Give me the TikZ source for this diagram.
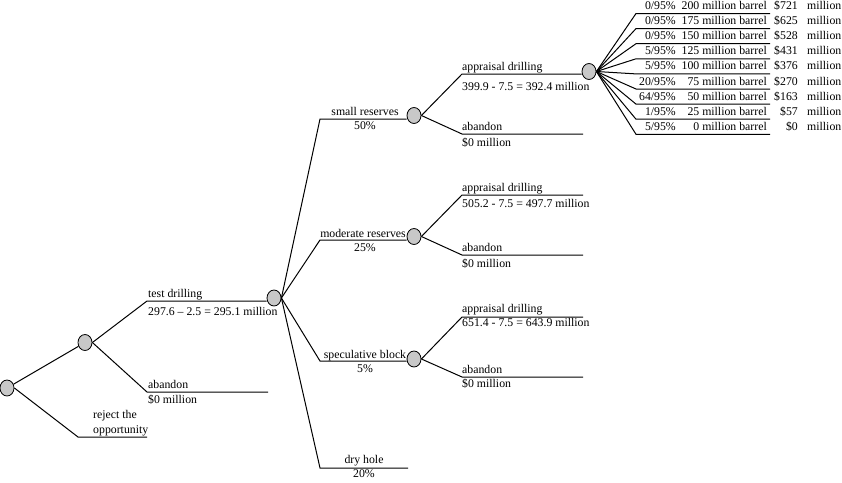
\documentclass[tikz,border=0pt]{standalone}
\usepackage{fontspec}
\setmainfont{Liberation Serif}
\usetikzlibrary{shapes.geometric}
\definecolor{nodegray}{RGB}{200,200,200}
\begin{document}
\begin{tikzpicture}[x=1pt,y=-1pt,
  dnode/.style={ellipse,draw,fill=nodegray,line width=0.8pt,minimum width=14pt,minimum height=16pt,inner sep=0pt},
  br/.style={line width=1pt},
  lbl/.style={font=\fontsize{11.8}{13}\selectfont,inner sep=0pt},
  lw/.style={lbl,anchor=base west},
  lc/.style={lbl,anchor=base},
  le/.style={lbl,anchor=base east}]
\useasboundingbox (0,0) rectangle (842,482);

% decision / chance nodes
\node[dnode] (A) at (7,388) {};
\node[dnode] (B) at (85,342.5) {};
\node[dnode] (C) at (274,298) {};
\node[dnode] (D1) at (414,115.5) {};
\node[dnode] (D2) at (414,236.5) {};
\node[dnode] (D3) at (414,359) {};
\node[dnode] (E) at (589,71.5) {};

% corner coordinates
\coordinate (a1) at (78,437);   \coordinate (a1e) at (147,437);
\coordinate (b1) at (147,301);
\coordinate (b2) at (147,392);  \coordinate (b2e) at (268,392);
\coordinate (c1) at (320,119);
\coordinate (c2) at (320,240);
\coordinate (c3) at (320,361);
\coordinate (c4) at (320,468);  \coordinate (c4e) at (408,468);
\coordinate (d11) at (462,74);
\coordinate (d12) at (462,134); \coordinate (d12e) at (583,134);
\coordinate (d21) at (462,195); \coordinate (d21e) at (583,195);
\coordinate (d22) at (462,255); \coordinate (d22e) at (583,255);
\coordinate (d31) at (462,317); \coordinate (d31e) at (583,317);
\coordinate (d32) at (462,377); \coordinate (d32e) at (583,377);

% branches
\draw[br] (A.east) -- (a1) -- (a1e);
\draw[br] (A) -- (B);
\draw[br] (B.east) -- (b1) -- (b1 -| C.west);
\draw[br] (B.east) -- (b2) -- (b2e);
\draw[br] (C.east) -- (c1) -- (c1 -| D1.west);
\draw[br] (C.east) -- (c2) -- (c2 -| D2.west);
\draw[br] (C.east) -- (c3) -- (c3 -| D3.west);
\draw[br] (C.east) -- (c4) -- (c4e);
\draw[br] (D1.east) -- (d11) -- (d11 -| E.west);
\draw[br] (D1.east) -- (d12) -- (d12e);
\draw[br] (D2.east) -- (d21) -- (d21e);
\draw[br] (D2.east) -- (d22) -- (d22e);
\draw[br] (D3.east) -- (d31) -- (d31e);
\draw[br] (D3.east) -- (d32) -- (d32e);

% labels
\node[lw] (tA1) at (93,418) {reject the};
\node[lw] (tA2) at (93,433) {opportunity};
\node[lw] (tB1) at (148,297) {test drilling};
\node[lw] (tB2) at (148,315) {297.6 – 2.5 = 295.1 million};
\node[lw] (tB3) at (148,388) {abandon};
\node[lw] (tB4) at (148,403) {\$0 million};

\node[lc] (tC1) at (365,115) {small reserves};
\node[lc] (tC2) at (365,129) {50\%};
\node[lc] (tC3) at (363,237) {moderate reserves};
\node[lc] (tC4) at (365,251) {25\%};
\node[lc] (tC5) at (365,358) {speculative block};
\node[lc] (tC6) at (365,372) {5\%};
\node[lc] (tC7) at (364,463) {dry hole};
\node[lc] (tC8) at (364,477) {20\%};

\node[lw] (tD1) at (462,70) {appraisal drilling};
\node[lw] (tD2) at (462,90) {399.9 - 7.5 = 392.4 million};
\node[lw] (tD3) at (462,130) {abandon};
\node[lw] (tD4) at (462,146) {\$0 million};
\node[lw] (tD5) at (462,191) {appraisal drilling};
\node[lw] (tD6) at (462,207) {505.2 - 7.5 = 497.7 million};
\node[lw] (tD7) at (462,251) {abandon};
\node[lw] (tD8) at (462,267) {\$0 million};
\node[lw] (tD9) at (462,312) {appraisal drilling};
\node[lw] (tD10) at (462,326) {651.4 - 7.5 = 643.9 million};
\node[lw] (tD11) at (462,373) {abandon};
\node[lw] (tD12) at (462,387) {\$0 million};

% outcome table
\foreach \i/\n/\b/\v in {0/0/200/721,1/0/175/625,2/0/150/528,3/5/125/431,4/5/100/376,5/20/75/270,6/64/50/163,7/1/25/57,8/5/0/0}{
  \pgfmathsetmacro\yy{13.5+15.1*\i}
  \coordinate (e\i) at (636,\yy);
  \coordinate (f\i) at (770,\yy);
  \draw[br] (E.east) -- (e\i) -- (f\i);
  \node[le] (p\i) at (676,\yy-4) {\n/95\%};
  \node[le] (q\i) at (767,\yy-4) {\b\ million barrel};
  \node[le] (r\i) at (798,\yy-4) {\$\v};
  \node[lw] (s\i) at (807,\yy-4) {million};
}
\end{tikzpicture}
\end{document}
